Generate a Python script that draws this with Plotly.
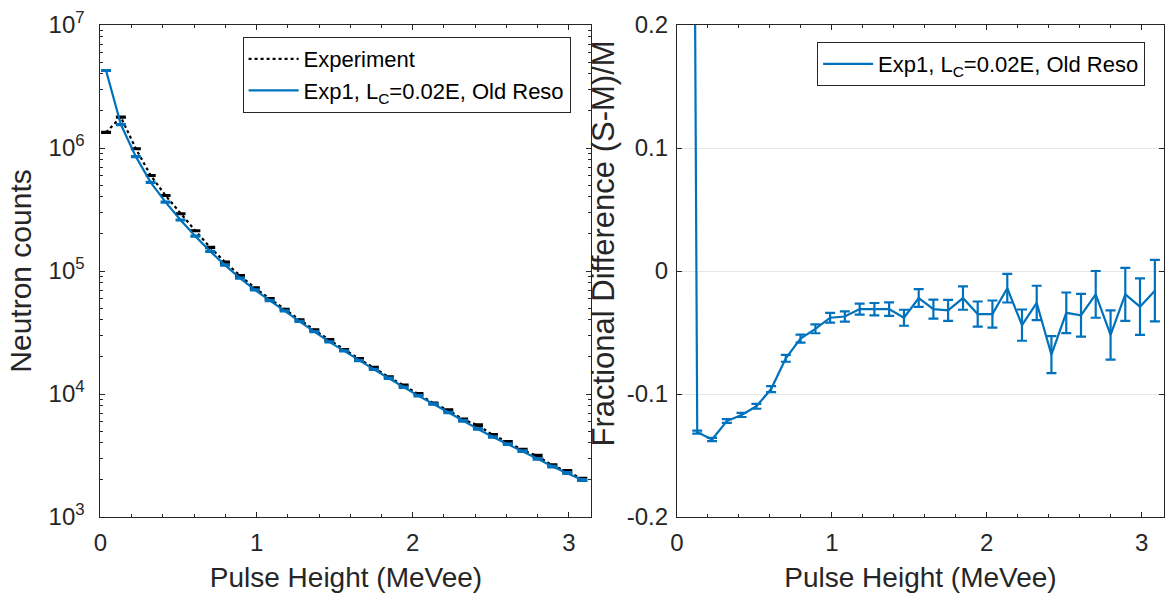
import plotly.graph_objects as go

# ---- data ----
pulse_height = [0.036, 0.131, 0.227, 0.322, 0.417, 0.513, 0.608, 0.703, 0.798, 0.894,
                0.989, 1.084, 1.180, 1.275, 1.370, 1.466, 1.561, 1.656, 1.751, 1.847,
                1.942, 2.037, 2.133, 2.228, 2.323, 2.418, 2.514, 2.609, 2.704, 2.800,
                2.895, 2.990, 3.086]

experiment = [1.34e6, 1.784e6, 9.86e5, 5.98e5, 4.11e5, 2.92e5, 2.124e5, 1.555e5, 1.182e5, 9.18e4,
              7.29e4, 5.96e4, 4.88e4, 4.01e4, 3.31e4, 2.755e4, 2.29e4, 1.93e4, 1.637e4, 1.373e4,
              1.176e4, 1.001e4, 8.40e3, 7.38e3, 6.21e3, 5.57e3, 4.63e3, 4.06e3, 3.50e3, 3.13e3,
              2.62e3, 2.35e3, 2.03e3]
experiment_err_pct = [0.1, 0.1, 0.1, 0.1, 0.12, 0.14, 0.17, 0.2, 0.23, 0.26,
                      0.28, 0.3, 0.32, 0.35, 0.39, 0.46, 0.51, 0.55, 0.6, 0.67,
                      0.72, 0.78, 0.82, 0.9, 0.99, 1.06, 1.17, 1.23, 1.34, 1.41,
                      1.52, 1.63, 1.77]

simulation = [4.27e6, 1.55e6, 8.51e5, 5.25e5, 3.63e5, 2.60e5, 1.92e5, 1.445e5, 1.117e5, 8.75e4,
              7.01e4, 5.74e4, 4.73e4, 3.89e4, 3.21e4, 2.65e4, 2.24e4, 1.87e4, 1.585e4, 1.343e4,
              1.135e4, 9.66e3, 8.28e3, 7.06e3, 6.05e3, 5.19e3, 4.47e3, 3.91e3, 3.43e3, 2.97e3,
              2.57e3, 2.28e3, 2.00e3]
simulation_err_pct = [0.1, 0.1, 0.1, 0.1, 0.1, 0.1, 0.12, 0.14, 0.16, 0.18,
                      0.2, 0.22, 0.24, 0.26, 0.28, 0.3, 0.32, 0.35, 0.38, 0.4,
                      0.42, 0.45, 0.48, 0.5, 0.55, 0.6, 0.65, 0.7, 0.75, 0.8,
                      0.85, 0.9, 0.95]

frac_diff = [2.19, -0.131, -0.137, -0.122, -0.117, -0.110, -0.096, -0.071, -0.055, -0.047,
             -0.038, -0.037, -0.031, -0.031, -0.031, -0.038, -0.022, -0.031, -0.032, -0.022,
             -0.035, -0.035, -0.014, -0.044, -0.026, -0.068, -0.034, -0.036, -0.019, -0.052,
             -0.019, -0.029, -0.016]
frac_diff_err = [0.02, 0.0012, 0.0013, 0.0015, 0.0017, 0.002, 0.0024, 0.0028, 0.0032, 0.0036,
                 0.004, 0.0041, 0.0045, 0.005, 0.0055, 0.0065, 0.0072, 0.0078, 0.0085, 0.0095,
                 0.0102, 0.011, 0.0116, 0.0127, 0.014, 0.015, 0.0165, 0.0174, 0.019, 0.02,
                 0.0215, 0.023, 0.025]

left_yticks = [1e3, 1e4, 1e5, 1e6, 1e7]
left_yticklabels = ["10<sup>3</sup>", "10<sup>4</sup>", "10<sup>5</sup>", "10<sup>6</sup>", "10<sup>7</sup>"]
right_yticks = [-0.2, -0.1, 0, 0.1, 0.2]
right_yticklabels = ["-0.2", "-0.1", "0", "0.1", "0.2"]
xticks = [0, 1, 2, 3]
xticklabels = ["0", "1", "2", "3"]

sim_label = "Exp1, L<sub>C</sub>=0.02E, Old Reso"
right_ytitle = "Fractional Difference (S-M)/M"

# ---- styles ----
BLUE = "#0072BD"
AX = "#262626"
FONT = "Liberation Sans, Arial, Helvetica, sans-serif"
TICK = 24
XTITLE = 28
YTITLE = 30
LEG = 22

exp_err_abs = [v * p / 100 for v, p in zip(experiment, experiment_err_pct)]
sim_err_abs = [v * p / 100 for v, p in zip(simulation, simulation_err_pct)]

fig = go.Figure()
fig.add_trace(go.Scatter(
    x=pulse_height, y=experiment, mode="lines", name="Experiment",
    line=dict(color="black", width=2.2, dash="dot"),
    error_y=dict(type="data", array=exp_err_abs, color="black", thickness=3, width=5),
    xaxis="x", yaxis="y", legend="legend"))
fig.add_trace(go.Scatter(
    x=pulse_height, y=simulation, mode="lines", name=sim_label,
    line=dict(color=BLUE, width=2.2),
    error_y=dict(type="data", array=sim_err_abs, color=BLUE, thickness=3, width=5),
    xaxis="x", yaxis="y", legend="legend"))
fig.add_trace(go.Scatter(
    x=pulse_height, y=frac_diff, mode="lines", name=sim_label,
    line=dict(color=BLUE, width=2.2),
    error_y=dict(type="data", array=frac_diff_err, color=BLUE, thickness=2.2, width=5),
    xaxis="x2", yaxis="y2", legend="legend2"))

common_x = dict(
    range=[0, 3.145], tickvals=xticks, ticktext=xticklabels,
    ticks="inside", ticklen=5, tickcolor=AX, showline=True, linecolor=AX, linewidth=1,
    mirror="ticks", showgrid=False, zeroline=False, ticklabelstandoff=4,
    minor=dict(ticks="inside", ticklen=3, dtick=0.2, tickcolor=AX, showgrid=False),
    tickfont=dict(size=TICK, color=AX, family=FONT),
    title=dict(text="Pulse Height (MeVee)", font=dict(size=XTITLE, color=AX, family=FONT), standoff=12),
)

fig.update_layout(
    width=1165, height=599,
    margin=dict(l=0, r=0, t=25, b=82),
    paper_bgcolor="white", plot_bgcolor="white",
    font=dict(family=FONT, color=AX),
    xaxis=dict(domain=[94 / 1165, 588 / 1165], anchor="y", **common_x),
    xaxis2=dict(domain=[674 / 1165, 1164 / 1165], anchor="y2", **common_x),
    yaxis=dict(
        type="log", range=[3, 7], tickvals=left_yticks, ticktext=left_yticklabels,
        ticks="inside", ticklen=5, tickcolor=AX, showline=True, linecolor=AX, linewidth=1,
        mirror="ticks", showgrid=False, zeroline=False, anchor="x", ticklabelstandoff=10,
        minor=dict(ticks="inside", ticklen=3, dtick="D1", tickcolor=AX, showgrid=False),
        tickfont=dict(size=TICK, color=AX, family=FONT),
        title=dict(text="Neutron counts", font=dict(size=YTITLE, color=AX, family=FONT), standoff=8),
    ),
    yaxis2=dict(
        range=[-0.2, 0.2], tickvals=right_yticks, ticktext=right_yticklabels,
        ticks="inside", ticklen=5, tickcolor=AX, showline=True, linecolor=AX, linewidth=1,
        mirror="ticks", showgrid=True, gridcolor="#e6e6e6", gridwidth=1, zeroline=False, anchor="x2",
        ticklabelstandoff=3,
        tickfont=dict(size=TICK, color=AX, family=FONT),
    ),
    annotations=[dict(
        text=right_ytitle, textangle=-90, xref="paper", yref="paper",
        x=600 / 1165, y=(517 - 243) / 492, xanchor="center", yanchor="middle",
        showarrow=False, font=dict(size=31, color=AX, family=FONT),
    )],
    legend=dict(
        x=567 / 1165, xanchor="right", y=(517 - 37) / 492, yanchor="top",
        bgcolor="white", bordercolor=AX, borderwidth=1, itemwidth=50,
        font=dict(size=LEG, color="black", family=FONT), tracegroupgap=0,
    ),
    legend2=dict(
        x=1145 / 1165, xanchor="right", y=(517 - 42) / 492, yanchor="top",
        bgcolor="white", bordercolor=AX, borderwidth=1, itemwidth=50,
        font=dict(size=LEG, color="black", family=FONT),
    ),
    showlegend=True,
)

fig.write_html("out.html")
